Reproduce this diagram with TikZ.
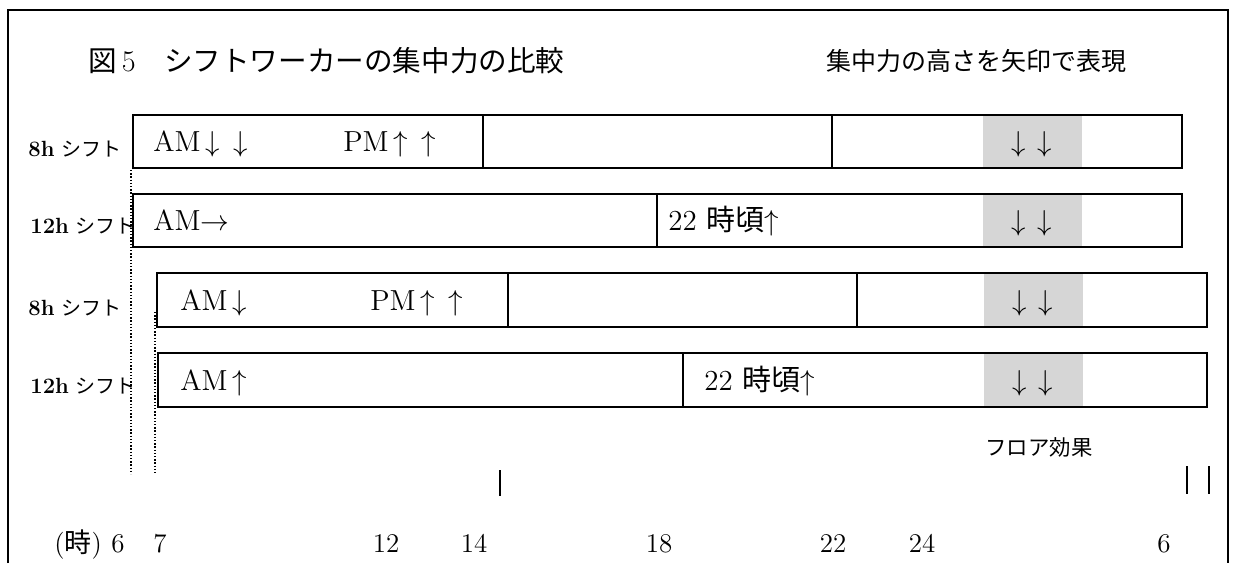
\documentclass[tikz,border=0pt]{standalone}
\usepackage{fontspec}
\newfontfamily\cjk{Noto Sans CJK JP}
\newcommand\myDn{$\downarrow$}
\newcommand\myUp{$\uparrow$}
\newcommand\myRt{$\rightarrow$}
\begin{document}
\begin{tikzpicture}[x=0.5pt,y=-0.5pt,
  frame/.style={line width=1pt},
  bar/.style={draw, line width=1pt, fill=white},
  floor/.style={fill=black!16},
  divider/.style={line width=1pt},
  guide/.style={line width=0.7pt, dash pattern=on 0.7pt off 0.9pt},
  tickmark/.style={line width=1pt},
  bartext/.style={anchor=base west, inner sep=0pt, font=\fontsize{14.5}{16}\selectfont},
  floortext/.style={anchor=base, inner sep=0pt, font=\fontsize{14.5}{16}\selectfont},
  rowlabel/.style={anchor=base west, inner sep=0pt, font=\fontsize{10}{12}\selectfont},
  hour/.style={anchor=base, inner sep=0pt, font=\fontsize{13.5}{15}\selectfont},
]
\useasboundingbox (0,0) rectangle (1235,563);

% outer frame
\draw[frame] (8,563) -- (8,10) -- (1228,10) -- (1228,563);

% titles
\node[anchor=base west, inner sep=0pt, font=\fontsize{14.3}{16}\selectfont] (title) at (88,71)
  {{\cjk 図}\,{\fontsize{15}{16}\selectfont 5}{\cjk 　シフトワーカーの集中力の比較}};
\node[anchor=base west, inner sep=0pt, font=\fontsize{12.5}{14}\selectfont] (subtitle) at (826,70)
  {\cjk 集中力の高さを矢印で表現};

% guide lines
\coordinate (g1top) at (131,170);
\coordinate (g1bot) at (131,474);
\coordinate (g2top) at (155,312);
\coordinate (g2bot) at (155,474);
\draw[guide] (g1top) -- (g1bot);
\draw[guide] (g2top) -- (g2bot);

% row 1 : 8h shift from 6
\fill[white] (133,115) rectangle (1182,168);
\fill[floor] (983,115) rectangle (1082,168);
\draw[bar, fill=none] (133,115) coordinate (r1nw) rectangle (1182,168) coordinate (r1se);
\draw[divider] (483,115) -- (483,168);
\draw[divider] (832,115) -- (832,168);
\node[bartext] (r1am) at (153,151) {AM\,\myDn\hspace{7pt}\myDn};
\node[bartext] (r1pm) at (343,151) {PM\,\myUp\hspace{7pt}\myUp};
\node[floortext] (r1fl) at (1032,151) {\myDn\hspace{6pt}\myDn};

% row 2 : 12h shift from 6
\fill[white] (133,194) rectangle (1182,247);
\fill[floor] (983,194) rectangle (1082,247);
\draw[bar, fill=none] (133,194) coordinate (r2nw) rectangle (1182,247) coordinate (r2se);
\draw[divider] (657,194) -- (657,247);
\node[bartext] (r2am) at (153,230) {AM\myRt};
\node[bartext] (r2pm) at (668,230) {22 {\cjk 時頃}\myUp};
\node[floortext] (r2fl) at (1032,230) {\myDn\hspace{6pt}\myDn};

% row 3 : 8h shift from 7
\fill[white] (157,273) rectangle (1207,327);
\fill[floor] (984,273) rectangle (1083,327);
\draw[bar, fill=none] (157,273) coordinate (r3nw) rectangle (1207,327) coordinate (r3se);
\draw[divider] (508,273) -- (508,327);
\draw[divider] (857,273) -- (857,327);
\node[bartext] (r3am) at (180,310) {AM\,\myDn};
\node[bartext] (r3pm) at (370,310) {PM\,\myUp\hspace{7pt}\myUp};
\node[floortext] (r3fl) at (1033,310) {\myDn\hspace{6pt}\myDn};

% row 4 : 12h shift from 7
\fill[white] (158,353) rectangle (1207,407);
\fill[floor] (984,353) rectangle (1083,407);
\draw[bar, fill=none] (158,353) coordinate (r4nw) rectangle (1207,407) coordinate (r4se);
\draw[divider] (683,353) -- (683,407);
\node[bartext] (r4am) at (180,390) {AM\,\myUp};
\node[bartext] (r4pm) at (704,390) {22 {\cjk 時頃}\myUp};
\node[floortext] (r4fl) at (1033,390) {\myDn\hspace{6pt}\myDn};

% row labels
\node[rowlabel] (l1) at (28,156) {{\fontsize{11}{12}\selectfont\textbf{8h}} {\cjk シフト}};
\node[rowlabel] (l2) at (30,233) {{\fontsize{11}{12}\selectfont\textbf{12h}} {\cjk シフト}};
\node[rowlabel] (l3) at (28,315) {{\fontsize{11}{12}\selectfont\textbf{8h}} {\cjk シフト}};
\node[rowlabel] (l4) at (30,393) {{\fontsize{11}{12}\selectfont\textbf{12h}} {\cjk シフト}};

% floor effect
\node[anchor=base west, inner sep=0pt, font=\fontsize{10.7}{12}\selectfont] (floor) at (985,455)
  {\cjk フロア効果};

% tick marks
\draw[tickmark] (500,470) -- (500,496);
\draw[tickmark] (1187,466) -- (1187,494);
\draw[tickmark] (1209,466) -- (1209,494);

% hour axis
\node[anchor=base west, inner sep=0pt, font=\fontsize{13.5}{15}\selectfont] (unit) at (54,552)
  {({\cjk 時})};
\node[hour] (h6) at (118,552) {6};
\node[hour] (h7) at (160,552) {7};
\node[hour] (h12) at (386,552) {12};
\node[hour] (h14) at (474,552) {14};
\node[hour] (h18) at (659,552) {18};
\node[hour] (h22) at (833,552) {22};
\node[hour] (h24) at (922,552) {24};
\node[hour] (h6b) at (1164,552) {6};
\end{tikzpicture}
\end{document}
